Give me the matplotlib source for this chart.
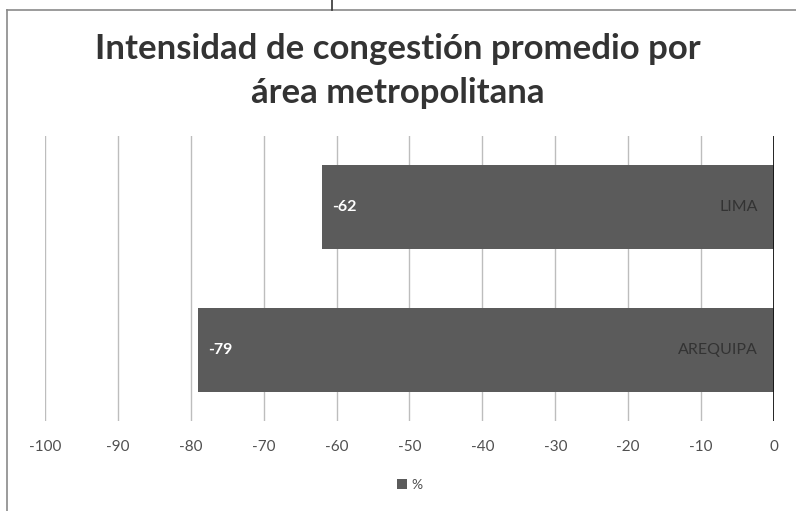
import matplotlib.pyplot as plt
from matplotlib.lines import Line2D

plt.rcParams['font.family'] = ['Lato', 'DejaVu Sans']

areas = ["LIMA", "AREQUIPA"]
values = [-62, -79]
xticks = [-100, -90, -80, -70, -60, -50, -40, -30, -20, -10, 0]

bar_color = "#5b5b5b"

fig = plt.figure(figsize=(7.96, 5.11), dpi=100)
ax = fig.add_axes([0.0565, 0.1761, 0.9158, 0.5577])

pos = list(range(len(areas)))
bars = ax.barh(pos, values, height=0.59, color=bar_color, label="%", zorder=2)

ax.set_xlim(-100, 0)
ax.set_ylim(len(areas) - 0.5, -0.5)
ax.set_xticks(xticks)
ax.set_xticklabels([str(t) for t in xticks])
ax.set_yticks([])
ax.tick_params(axis="x", length=0, pad=14, labelsize=11, labelcolor="#505050")
for s in ax.spines.values():
    s.set_visible(False)

# vertical gridlines and the zero axis
ax.grid(axis="x", color="#bdbdbd", linewidth=1, zorder=0)
ax.axvline(0, color="#111111", linewidth=2, zorder=3)

# value labels at the bar ends, area names near the axis
for p, v, name in zip(pos, values, areas):
    ax.text(v + 1.4, p, str(v), color="white", fontsize=11.5, fontweight="bold",
            va="center", ha="left", zorder=4)
    ax.text(-2.2, p, name, color="#333333", fontsize=11.5,
            va="center", ha="right", zorder=4)

fig.text(0.5, 0.905, "Intensidad de congestión promedio por", ha="center",
         va="center", fontsize=25, fontweight="bold", color="#333333")
fig.text(0.5, 0.818, "área metropolitana", ha="center",
         va="center", fontsize=25, fontweight="bold", color="#333333")

fig.legend(handles=[bars], labels=["%"], loc="center",
           bbox_to_anchor=(0.515, 0.051), frameon=False, fontsize=10,
           handlelength=0.7, handleheight=0.7, handletextpad=0.3,
           labelcolor="#505050")

# chart frame edges
frame = "#8a8a8a"
fig.add_artist(Line2D([7 / 796, 7 / 796], [0, 1 - 10 / 511], color=frame, lw=1.2))
fig.add_artist(Line2D([7 / 796, 1], [1 - 10 / 511, 1 - 10 / 511], color=frame, lw=1.2))
fig.add_artist(Line2D([332 / 796, 332 / 796], [1 - 10 / 511, 1], color="#333333", lw=1.2))

fig.savefig("out.png", dpi=100)
